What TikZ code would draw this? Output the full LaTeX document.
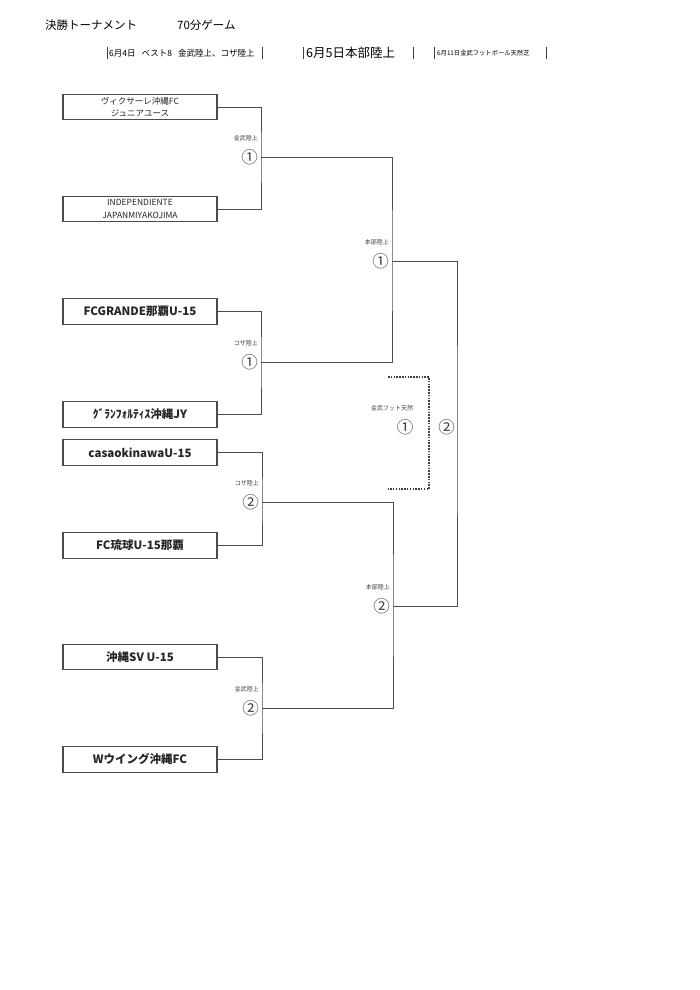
\documentclass[tikz,border=0pt]{standalone}
\usepackage{fontspec}
\setmainfont{Noto Sans CJK JP}
\usetikzlibrary{positioning}
\begin{document}
\begin{tikzpicture}[x=1pt,y=-1pt,
  team/.style={draw=black!70,line width=1.1pt,minimum width=154pt,minimum height=25.5pt,inner sep=0pt,align=center,font=\fontsize{11.5}{13}\selectfont\bfseries,text=black!85},
  teamsmall/.style={team,font=\fontsize{8.5}{12.5}\selectfont},
  wire/.style={draw=black!70,line width=1pt},
  dots/.style={draw=black!75,line width=1.5pt,dash pattern=on 1.5pt off 1.3pt},
  bar/.style={draw=black!75,line width=1pt},
  rnd/.style={inner sep=0pt,font=\fontsize{16.5}{17}\selectfont,text=black!75},
  venue/.style={inner sep=0pt,font=\fontsize{6}{7}\selectfont,text=black!75}]
\useasboundingbox[fill=white] (0,0) rectangle (700,990);

% header
\node[anchor=west,inner sep=0pt,font=\fontsize{11.5}{13}\selectfont] (title) at (45,25) {決勝トーナメント};
\node[anchor=west,inner sep=0pt,font=\fontsize{11.5}{13}\selectfont] (game) at (177,25) {70分ゲーム};
\node[anchor=west,inner sep=0pt,font=\fontsize{8.5}{9}\selectfont] (day1) at (109,53) {6月4日\hspace{6pt}ベスト8\hspace{6pt}金武陸上、コザ陸上};
\node[anchor=west,inner sep=0pt,font=\fontsize{12.5}{13}\selectfont] (day2) at (306,53) {6月5日本部陸上};
\node[anchor=west,inner sep=0pt,font=\fontsize{6.3}{7}\selectfont] (day3) at (437,53) {6月11日金武フットボール天然芝};
\draw[bar] (107,47) -- (107,59);
\draw[bar] (262,47) -- (262,59);
\draw[bar] (303,47) -- (303,59);
\draw[bar] (413,47) -- (413,59);
\draw[bar] (434,47) -- (434,59);
\draw[bar] (546,47) -- (546,59);

% teams
\node[teamsmall] (vik) at (140,107) {ヴィクサーレ沖縄FC\\ジュニアユース};
\node[teamsmall] (ind) at (140,209) {INDEPENDIENTE\\JAPANMIYAKOJIMA};
\node[team] (fcg) at (140,311.5) {FCGRANDE那覇U-15};
\node[team] (gra) at (140,414.5) {ｸﾞﾗﾝﾌｫﾙﾃｨｽ沖縄JY};
\node[team] (casa) at (140,452.5) {casaokinawaU-15};
\node[team] (ryu) at (140,545.5) {FC琉球U-15那覇};
\node[team] (sv) at (140,657) {沖縄SV U-15};
\node[team] (wing) at (140,759.5) {Wウイング沖縄FC};

% round 1
\coordinate (A) at (261,157);
\coordinate (B) at (261,362);
\coordinate (C) at (262,502);
\coordinate (D) at (262,708);
\draw[wire] (vik.east) -| (A) |- (ind.east);
\draw[wire] (fcg.east) -| (B) |- (gra.east);
\draw[wire] (casa.east) -| (C) |- (ryu.east);
\draw[wire] (sv.east) -| (D) |- (wing.east);

\node[rnd,left=3pt of A] (ra) {①};
\node[rnd,left=3pt of B] (rb) {①};
\node[rnd,left=3pt of C] (rc) {②};
\node[rnd,left=3pt of D] (rd) {②};
\node[venue,above=19pt of ra.east,anchor=east] {金武陸上};
\node[venue,above=19pt of rb.east,anchor=east] {コザ陸上};
\node[venue,above=19pt of rc.east,anchor=east] {コザ陸上};
\node[venue,above=19pt of rd.east,anchor=east] {金武陸上};

% semifinals
\coordinate (E) at (392,261);
\coordinate (F) at (393,606);
\draw[wire] (A) -| (E) |- (B);
\draw[wire] (C) -| (F) |- (D);
\node[rnd,left=3pt of E] (re) {①};
\node[rnd,left=3pt of F] (rf) {②};
\node[venue,above=19pt of re.east,anchor=east] {本部陸上};
\node[venue,above=19pt of rf.east,anchor=east] {本部陸上};

% final
\coordinate (G) at (457,427);
\draw[wire] (E) -| (G) |- (F);
\node[rnd,left=2pt of G] (rg) {②};

% third place
\coordinate (H1) at (388,377);
\coordinate (H2) at (429,489);
\coordinate (H3) at (388,489);
\draw[dots] (H1) -| (H2) -- (H3);
\node[venue] (kin) at (392,408) {金武フット天然};
\node[rnd] (rh) at (405,427) {①};
\end{tikzpicture}
\end{document}
